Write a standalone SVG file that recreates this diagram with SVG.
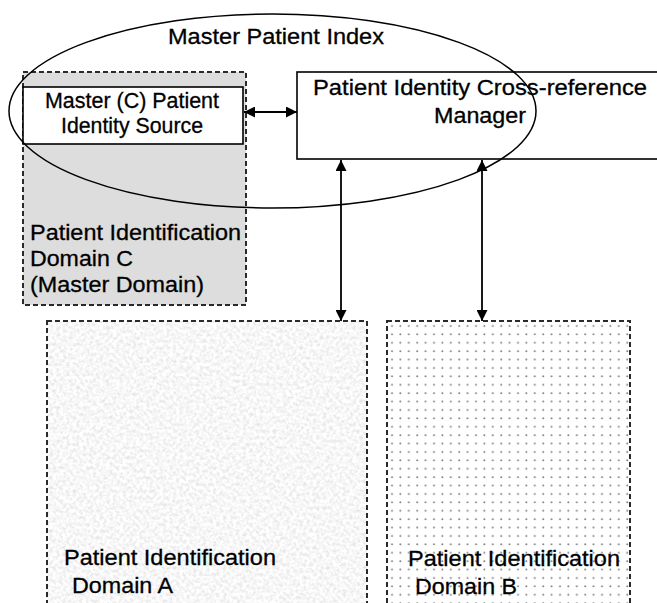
<svg xmlns="http://www.w3.org/2000/svg" width="657" height="603" viewBox="0 0 657 603">
  <style>
    text { font-family: "Liberation Sans", Arial, sans-serif; fill: #000; stroke: #000; stroke-width: 0.3; }
    .t { font-size: 22px; }
    .box { fill: #fff; stroke: #000; stroke-width: 1.6; }
    .dash { fill: none; stroke: #2a2a2a; stroke-width: 2; stroke-dasharray: 5 3; }
    .conn { stroke: #000; stroke-width: 1.8; fill: none; }
  </style>
  <defs>
    <marker id="ah" viewBox="0 0 10 10" refX="10" refY="5" markerWidth="12" markerHeight="11" markerUnits="userSpaceOnUse" orient="auto-start-reverse">
      <path d="M0,0 L10,5 L0,10 z" fill="#000"/>
    </marker>
    <pattern id="dots" x="388" y="322" width="8.4" height="8.4" patternUnits="userSpaceOnUse">
      <circle cx="4" cy="4" r="1" fill="#7a7a7a"/>
    </pattern>
    <filter id="noise" x="0" y="0" width="1" height="1" filterUnits="objectBoundingBox">
      <feTurbulence type="fractalNoise" baseFrequency="0.3" numOctaves="3" seed="7" result="n"/>
      <feColorMatrix in="n" type="matrix" values="0.45 0 0 0 0.705  0.45 0 0 0 0.705  0.45 0 0 0 0.705  0 0 0 0 1"/>
    </filter>
  </defs>

  <g id="domainC">
    <rect x="23" y="72" width="223" height="233" fill="#dddddd"/>
    <rect x="23" y="72" width="223" height="233" class="dash"/>
    <text class="t" x="30" y="240" textLength="211" lengthAdjust="spacingAndGlyphs">Patient Identification</text>
    <text class="t" x="30" y="266" textLength="103" lengthAdjust="spacingAndGlyphs">Domain C</text>
    <text class="t" x="30" y="292" textLength="174" lengthAdjust="spacingAndGlyphs">(Master Domain)</text>
  </g>

  <g id="masterSource">
    <rect x="23" y="87" width="220" height="57" class="box"/>
    <text class="t" x="45" y="108" font-size="20.5" textLength="174" lengthAdjust="spacingAndGlyphs">Master (C) Patient</text>
    <text class="t" x="61" y="133" font-size="20.5" textLength="142" lengthAdjust="spacingAndGlyphs">Identity Source</text>
  </g>

  <g id="xrefManager">
    <rect x="297" y="72" width="362" height="87" class="box"/>
    <text class="t" x="313" y="95" textLength="334" lengthAdjust="spacingAndGlyphs">Patient Identity Cross-reference</text>
    <text class="t" x="434" y="123" textLength="92" lengthAdjust="spacingAndGlyphs">Manager</text>
  </g>

  <g id="domainA">
    <rect x="47" y="321" width="320" height="290" fill="#ececec" filter="url(#noise)"/>
    <rect x="47" y="321" width="320" height="290" class="dash"/>
    <text class="t" x="64" y="565" textLength="212" lengthAdjust="spacingAndGlyphs">Patient Identification</text>
    <text class="t" x="72" y="593" textLength="101" lengthAdjust="spacingAndGlyphs">Domain A</text>
  </g>

  <g id="domainB">
    <rect x="387" y="321" width="243" height="290" fill="#fff"/>
    <rect x="387" y="321" width="243" height="290" fill="url(#dots)"/>
    <rect x="387" y="321" width="243" height="290" class="dash"/>
    <text class="t" x="408" y="566" textLength="212" lengthAdjust="spacingAndGlyphs">Patient Identification</text>
    <text class="t" x="415" y="594" textLength="102" lengthAdjust="spacingAndGlyphs">Domain B</text>
  </g>

  <g id="connectors">
    <line x1="244" y1="112" x2="297" y2="112" class="conn" marker-start="url(#ah)" marker-end="url(#ah)"/>
    <line x1="341" y1="160" x2="341" y2="321" class="conn" marker-start="url(#ah)" marker-end="url(#ah)"/>
    <line x1="482" y1="160" x2="482" y2="321" class="conn" marker-start="url(#ah)" marker-end="url(#ah)"/>
  </g>

  <g id="masterPatientIndex">
    <ellipse cx="272.5" cy="111" rx="263.5" ry="97" fill="none" stroke="#000" stroke-width="1.5"/>
    <text class="t" x="168" y="44" textLength="216" lengthAdjust="spacingAndGlyphs">Master Patient Index</text>
  </g>
</svg>
